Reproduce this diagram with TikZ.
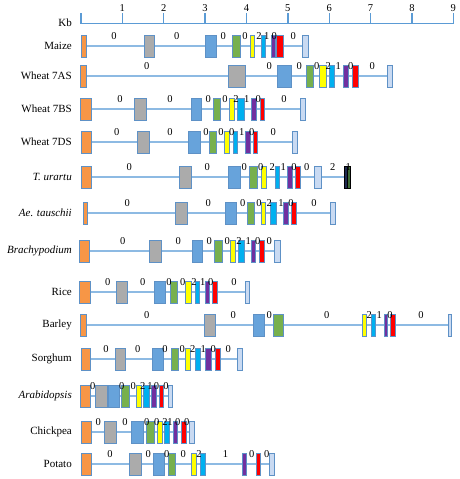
\documentclass[tikz,border=0pt]{standalone}
\usepackage{fontspec}
\setmainfont{Liberation Serif}
\usepackage{tikz}
\definecolor{gorange}{HTML}{F79646}
\definecolor{ggray}{HTML}{ABABAB}
\definecolor{gblue}{HTML}{67A3DB}
\definecolor{ggreen}{HTML}{77B04D}
\definecolor{gyellow}{HTML}{FFFF00}
\definecolor{gcyan}{HTML}{00B0F0}
\definecolor{gpurple}{HTML}{7030A0}
\definecolor{gred}{HTML}{FF0000}
\definecolor{gend}{HTML}{C9DAF2}
\definecolor{gnavy}{HTML}{1F2A50}
\definecolor{gdkgreen}{HTML}{3E6B35}
\definecolor{rim}{HTML}{5E91C6}
\definecolor{intronblue}{HTML}{8DBAE3}
\definecolor{axisblue}{HTML}{5B9BD5}
\tikzset{
  exon/.style={draw=rim,line width=0.9pt},
  intron/.style={draw=intronblue,line width=1.4pt},
  phase/.style={font=\fontsize{10.5}{11}\selectfont,inner sep=0pt},
  species/.style={font=\fontsize{11}{12}\selectfont,anchor=east,inner sep=0pt},
  scaleline/.style={draw=axisblue,line width=1.8pt}
}
% one row of exons: #1 = y, #2 = list left/right/colour
\newcommand{\exons}[2]{%
  \foreach \l/\r/\c in {#2}
    \draw[exon,fill=\c] (\l,#1-11) rectangle (\r,#1+11);}
% intron phase numbers: #1 = y, #2 = list x/text
\newcommand{\phases}[2]{%
  \foreach \x/\t [count=\i] in {#2}
    \node[phase] (ph#1-\i) at (\x,#1-10) {\t};}

\begin{document}
\begin{tikzpicture}[x=1pt,y=-1pt]
\useasboundingbox (0,0) rectangle (459,479);
% scale in kb
\draw[scaleline] (81,23.5) -- (453.3,23.5);
\foreach \k in {0,...,9}
  \draw[scaleline,line width=1.4pt] (81+41.37*\k,23.5) -- (81+41.37*\k,13);
\foreach \k in {1,...,9}
  \node[phase] (kb\k) at (81+41.37*\k,8) {\k};
\node[species] (kb) at (72,23) {Kb};

% species names
\node[species] (maize) at (72,46) {Maize};
\node[species] (w7as) at (72,76) {Wheat 7AS};
\node[species] (w7bs) at (72,109) {Wheat 7BS};
\node[species] (w7ds) at (72,142) {Wheat 7DS};
\node[species] (turartu) at (72,177) {\textit{T. urartu}};
\node[species] (aetau) at (72,213) {\textit{Ae. tauschii}};
\node[species] (brachy) at (72,251) {\textit{Brachypodium}};
\node[species] (rice) at (72,292) {Rice};
\node[species] (barley) at (72,325) {Barley};
\node[species] (sorghum) at (72,359) {Sorghum};
\node[species] (arabid) at (72,396) {\textit{Arabidopsis}};
\node[species] (chickpea) at (72,432) {Chickpea};
\node[species] (potato) at (72,464) {Potato};

% Maize
\draw[intron] (81,46) -- (308.7,46);
\exons{46}{81/86/gorange,144/154.3/ggray,205/216/gblue,232.7/240/ggreen,250/254.3/gyellow,261/265.3/gcyan,271/275/gpurple,276.7/283.3/gred,302.3/308.7/gend}
\phases{46}{114/0,176.7/0,223.3/0,245/0,259/2,266.7/1,274.3/0,293.3/0}

% Wheat 7AS
\draw[intron] (80,76) -- (392.7,76);
\exons{76}{80/86.7/gorange,228.3/245.7/ggray,277.7/291/gblue,306/313.3/ggreen,319.3/326.7/gyellow,329.3/334/gcyan,343.3/348/gpurple,352.7/358.3/gred,387/392.7/gend}
\phases{76}{146.7/0,269.3/0,299.3/0,316.7/0,328.3/2,338.3/1,350.7/0,372.3/0}

% Wheat 7BS
\draw[intron] (80,109) -- (305.3,109);
\exons{109}{80/91/gorange,134.3/146.7/ggray,191/201.7/gblue,213.3/220/ggreen,229.3/234/gyellow,237.3/244/gcyan,251.7/256.7/gpurple,260/264.3/gred,300/305.3/gend}
\phases{109}{120/0,170/0,208.3/0,225/0,236/2,246.7/1,258.3/0,284/0}

% Wheat 7DS
\draw[intron] (81,142) -- (297.3,142);
\exons{142}{81/91.7/gorange,137.3/149/ggray,188.3/200/gblue,209.3/216/ggreen,224/229/gyellow,233.3/237.7/gcyan,245/250/gpurple,253.3/257.7/gred,292.3/297.3/gend}
\phases{142}{116.7/0,170/0,206/0,221/0,231.7/0,241.7/1,251.7/0,273.3/0}

% T. urartu
\draw[intron] (81,177) -- (350.7,177);
\exons{177}{81/91/gorange,179/191/ggray,228.3/240.7/gblue,249.3/257.3/ggreen,261/266/gyellow,275/279.3/gcyan,287.7/292.3/gpurple,295/300/gred,314/321/gend}
\draw[exon,draw=black,fill=gnavy] (344.3,166) rectangle (347.3,188);
\draw[exon,draw=black,fill=gdkgreen] (347.3,166) rectangle (350.7,188);
\phases{177}{129.3/0,207.3/0,244.3/0,260.7/0,272.3/2,283.3/1,294/0,306.7/0,332.7/2,348.3/1}

% Ae. tauschii
\draw[intron] (83.3,213) -- (335,213);
\exons{213}{83.3/87.7/gorange,175.7/187.3/ggray,225/236/gblue,247.3/254/ggreen,261.7/265.7/gyellow,270/276/gcyan,283.3/288.3/gpurple,291/296/gred,330/335/gend}
\phases{213}{127.3/0,208.3/0,242.7/0,259/0,269.3/2,281/1,291/0,314/0}

% Brachypodium
\draw[intron] (79.3,251) -- (280,251);
\exons{251}{79.3/89/gorange,149/161.7/ggray,192.3/202.3/gblue,214.3/222.3/ggreen,230/235/gyellow,238.3/244/gcyan,251/255.7/gpurple,259.3/264/gred,274.3/280/gend}
\phases{251}{122.7/0,178.3/0,209.3/0,227.3/0,239/2,248.3/1,257.7/0,269.3/0}

% Rice
\draw[intron] (79.3,292) -- (249.3,292);
\exons{292}{79.3/90/gorange,116/127.7/ggray,154.3/165.7/gblue,170/177.3/ggreen,185.7/191/gyellow,195/199.3/gcyan,205/209.3/gpurple,212.7/217.7/gred,245/249.3/gend}
\phases{292}{107.7/0,142.7/0,169/0,182.7/0,194/2,202.7/1,210.7/0,234/0}

% Barley
\draw[intron] (80.7,325) -- (451.7,325);
\exons{325}{80.7/86.7/gorange,204.3/215.7/ggray,253.3/264.3/gblue,273.3/283.3/ggreen,362.7/366/gyellow,371/375/gcyan,384.3/387.7/gpurple,390.7/395.7/gred,448.3/451.7/gend}
\phases{325}{146.7/0,233.3/0,269.3/0,326.7/0,369.3/2,379.3/1,390/0,421/0}

% Sorghum
\draw[intron] (81,359) -- (242.7,359);
\exons{359}{81/90/gorange,115/125.7/ggray,152.7/163.3/gblue,171/178.3/ggreen,185/190.7/gyellow,195/200/gcyan,205/211.7/gpurple,215/220/gred,237.7/242.7/gend}
\phases{359}{106/0,137.7/0,165/0,182.3/0,192.7/2,203.3/1,213.3/0,228.3/0}

% Arabidopsis
\draw[intron] (80,396) -- (172.7,396);
\exons{396}{80/90/gorange,95/107.7/ggray,108.3/119.3/gblue,121.7/129.3/ggreen,136/141/gyellow,143.3/149.3/gcyan,151.7/156/gpurple,159.3/163.3/gred,168.3/172.7/gend}
\phases{396}{92.7/0,121.7/0,133.3/0,142.7/2,150/1,156.5/0,166/0}

% Chickpea
\draw[intron] (81,432) -- (194,432);
\exons{432}{81/91.7/gorange,104.3/116.7/ggray,131.7/143.3/gblue,146.7/154/ggreen,157.3/162.3/gyellow,164/169/gcyan,173.3/177.3/gpurple,181/186/gred,189.3/194/gend}
\phases{432}{98.3/0,125/0,146.7/0,156.7/0,165/2,170/1,177.7/0,186.7/0}

% Potato
\draw[intron] (81,464) -- (274,464);
\exons{464}{81/91.7/gorange,129.3/141/ggray,153.3/164.3/gblue,168.3/175.7/ggreen,191.7/196.7/gyellow,200.7/205.7/gcyan,242.7/246.7/gpurple,256/260.7/gred,269.3/274/gend}
\phases{464}{110/0,148.3/0,166.7/0,183.3/0,199/2,225.5/1,251.7/0,266.7/0}
\end{tikzpicture}
\end{document}
